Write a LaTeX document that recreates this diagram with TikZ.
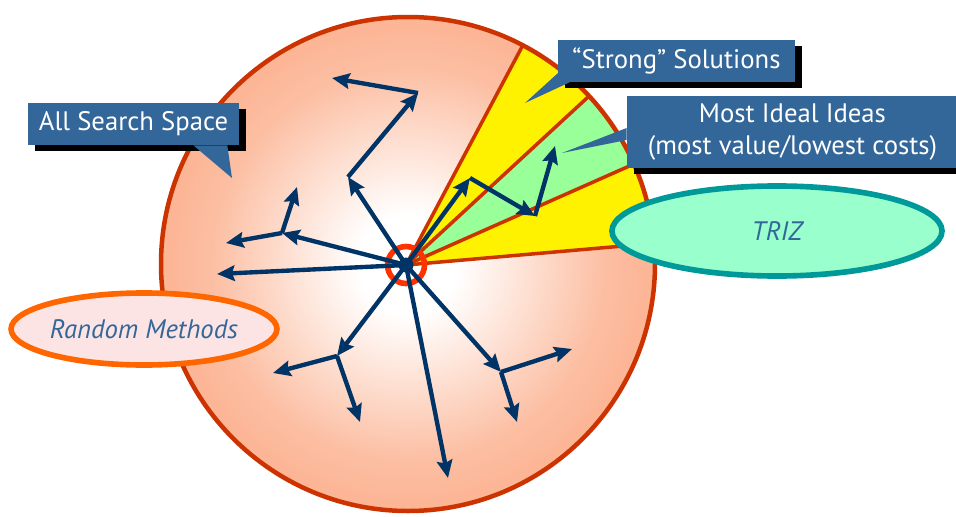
\documentclass[tikz,border=0pt]{standalone}
\usepackage{fontspec}
\setmainfont{PT Sans}
\usetikzlibrary{arrows.meta,shapes.geometric,shadows,calc}

\definecolor{calloutblue}{RGB}{51,102,153}
\definecolor{navyarrow}{RGB}{0,51,102}
\definecolor{rimred}{RGB}{204,51,0}
\definecolor{ringred}{RGB}{255,51,0}
\definecolor{searchsalmon}{RGB}{250,150,105}
\definecolor{searchmid}{RGB}{252,190,162}
\definecolor{wedgegreen}{RGB}{153,255,153}
\definecolor{randomorange}{RGB}{255,102,0}
\definecolor{randompink}{RGB}{252,228,228}
\definecolor{trizteal}{RGB}{0,153,153}
\definecolor{trizmint}{RGB}{153,255,204}

\pgfdeclareradialshading{searchshade}{\pgfpointorigin}{color(0bp)=(white); color(5bp)=(white); color(20bp)=(searchmid); color(40bp)=(searchsalmon); color(50bp)=(searchsalmon)}

\tikzset{
  walk/.style={draw=navyarrow, line width=3.1pt, -{Stealth[length=12.5pt,width=11pt,inset=1.8pt]}},
  rim/.style={draw=rimred, line width=2.5pt},
  callout/.style={fill=calloutblue, text=white, inner sep=0pt,
    font=\fontsize{19}{23}\selectfont,
    drop shadow={shadow xshift=0.175cm, shadow yshift=-0.15cm, fill=black, opacity=1}},
  methodoval/.style={ellipse, line width=4pt, inner sep=0pt, text=calloutblue,
    font=\fontsize{19}{23}\selectfont\itshape}
}

\begin{document}
\begin{tikzpicture}[x=0.025cm, y=0.025cm]
	%%%%% START %%%%%
	\useasboundingbox (0,0) rectangle (956,516);
	
	\coordinate (C) at (408,252);
	\coordinate (H) at (406,251);
	
	% search space disc
	\shade[shading=searchshade] (C) circle [radius=247];
	
	\begin{scope}
		\clip (C) circle [radius=247];
		\fill[yellow] (H) -- ++(62:400) arc [start angle=62, end angle=42.7, radius=400] -- cycle;
		\fill[wedgegreen] (H) -- ++(42.7:400) arc [start angle=42.7, end angle=23.9, radius=400] -- cycle;
		\fill[yellow] (H) -- ++(23.9:400) arc [start angle=23.9, end angle=5, radius=400] -- cycle;
		\draw[rim] (H) -- ++(62:400);
		\draw[rim] (H) -- ++(42.7:400);
		\draw[rim] (H) -- ++(23.9:400);
		\draw[rim] (H) -- ++(5:400);
	\end{scope}
	
	\draw[rimred, line width=3.2pt] (C) circle [radius=247];
	\draw[ringred, line width=4pt] (H) circle [radius=18.5];
	
	% random walks
	\coordinate (p1) at (348,339);
	\coordinate (p2) at (418,423);
	\coordinate (p3) at (332,438);
	\coordinate (q1) at (282,283);
	\coordinate (q2) at (297,329);
	\coordinate (q3) at (226,273);
	\coordinate (c1) at (217,242);
	\coordinate (r1) at (337,160);
	\coordinate (r2) at (273,143);
	\coordinate (r3) at (360,94);
	\coordinate (e1) at (448,38);
	\coordinate (s1) at (501,144);
	\coordinate (s2) at (572,167);
	\coordinate (s3) at (517,94);
	\coordinate (t1) at (470,338);
	\coordinate (t2) at (535,300);
	\coordinate (t3) at (555,370);
	
	\draw[walk] (H) -- (p1);
	\draw[walk] (p1) -- (p2);
	\draw[walk] (p2) -- (p3);
	\draw[walk] (H) -- (q1);
	\draw[walk] (q1) -- (q2);
	\draw[walk] (q1) -- (q3);
	\draw[walk] (H) -- (c1);
	\draw[walk] (H) -- (r1);
	\draw[walk] (r1) -- (r2);
	\draw[walk] (r1) -- (r3);
	\draw[walk] (H) -- (e1);
	\draw[walk] (H) -- (s1);
	\draw[walk] (s1) -- (s2);
	\draw[walk] (s1) -- (s3);
	\draw[walk] (H) -- (t1);
	\draw[walk] (t1) -- (t2);
	\draw[walk] (t2) -- (t3);
	
	\fill[navyarrow] (H) circle [radius=7.5];
	
	% method ovals
	\node[methodoval, draw=randomorange, fill=randompink, minimum width=6.5cm, minimum height=1.8cm] (random) at (144,187) {Random Methods};
	\node[methodoval, draw=trizteal, fill=trizmint, minimum width=8.25cm, minimum height=2.25cm] (triz) at (777,285) {TRIZ};
	
	% callouts
	\coordinate (spacetip) at (232,338);
	\coordinate (strongtip) at (525,413);
	\coordinate (idealtip) at (562,363);
	
	\node[callout, minimum width=5.275cm, minimum height=1.05cm] (allspace) at (133.5,392) {All Search Space};
	\fill[calloutblue] ([xshift=-1.15cm]allspace.south east) -- (spacetip) -- ([xshift=-0.3cm]allspace.south east) -- cycle;
	
	\node[callout, minimum width=5.925cm, minimum height=1.05cm] (strong) at (676.5,455) {“Strong” Solutions};
	\fill[calloutblue] ([yshift=0.225cm]strong.south west) -- (strongtip) -- ([xshift=0.3cm]strong.south west) -- cycle;
	
	\node[callout, minimum width=8.275cm, minimum height=1.8cm, align=center] (ideal) at (792.5,384) {Most Ideal Ideas\\(most value/lowest costs)};
	\fill[calloutblue] ([yshift=0.1cm]ideal.west) -- (idealtip) -- ([yshift=-0.2cm]ideal.west) -- cycle;
	
	%%%%% END %%%%%
\end{tikzpicture}
\end{document}
